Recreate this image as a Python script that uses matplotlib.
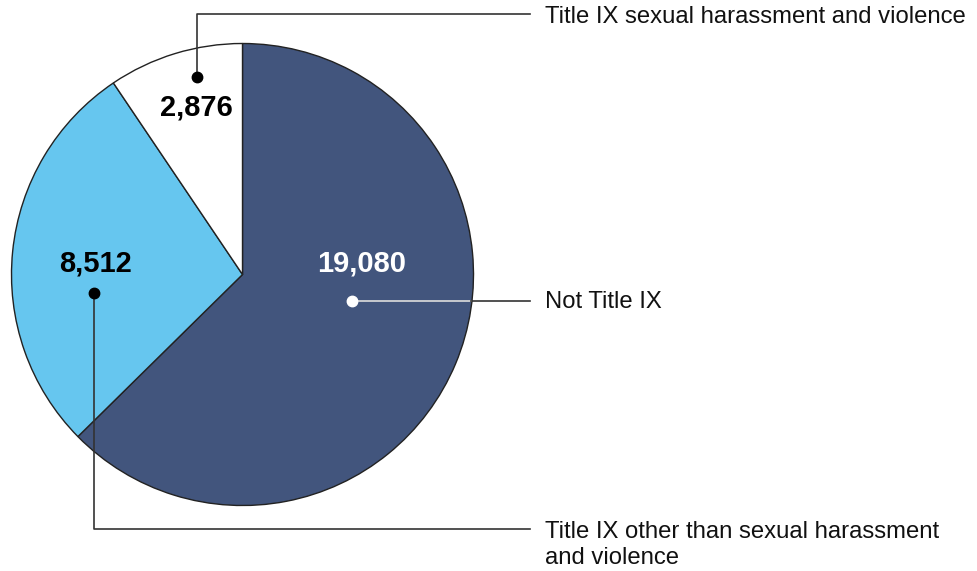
import matplotlib
matplotlib.use("Agg")
import matplotlib.pyplot as plt

plt.rcParams['font.family'] = ['Liberation Sans', 'DejaVu Sans']

categories = ["Not Title IX",
              "Title IX other than sexual harassment\nand violence",
              "Title IX sexual harassment and violence"]
values = [19080, 8512, 2876]
value_labels = ["19,080", "8,512", "2,876"]
colors = ["#42557d", "#66c6ef", "#ffffff"]

W, H = 977, 571
def Y(y):
    return H - y

fig = plt.figure(figsize=(W / 100, H / 100), dpi=100)
ax = fig.add_axes([0, 0, 1, 1])

cx, cy, R = 242.5, Y(274.5), 231
ax.pie(values, colors=colors, startangle=90, counterclock=False,
       center=(cx, cy), radius=R,
       wedgeprops=dict(edgecolor="#222222", linewidth=1.0))

ax.set_xlim(0, W)
ax.set_ylim(0, H)
ax.set_aspect("equal")
ax.axis("off")

line_c = "#333333"
lx_end = 530
tx = 545
fs_lab = 17.2
fs_val = 21

# Not Title IX
ax.text(362, Y(263), value_labels[0], color="white", fontsize=fs_val,
        fontweight="bold", ha="center", va="center")
ax.plot([352, cx + R - 3], [Y(301), Y(301)], color="#dddddd", lw=1.2)
ax.plot([cx + R - 3, lx_end], [Y(301), Y(301)], color=line_c, lw=1.2)
ax.plot([352], [Y(301)], "o", color="white", ms=7.5)
ax.text(tx, Y(302), categories[0], fontsize=fs_lab, ha="left", va="center",
        color="#111111")

# Title IX other
ax.text(95, Y(263), value_labels[1], color="black", fontsize=fs_val,
        fontweight="bold", ha="center", va="center")
ax.plot([94, 94, lx_end], [Y(293), Y(529), Y(529)], color=line_c, lw=1.2)
ax.plot([94], [Y(293)], "o", color="black", ms=7.5)
ax.text(tx, Y(545), categories[1], fontsize=fs_lab, ha="left", va="center",
        color="#111111", linespacing=1.18)

# Title IX sexual harassment
ax.text(196, Y(107), value_labels[2], color="black", fontsize=fs_val,
        fontweight="bold", ha="center", va="center")
ax.plot([197, 197, lx_end], [Y(77), Y(14), Y(14)], color=line_c, lw=1.2)
ax.plot([197], [Y(77)], "o", color="black", ms=7.5)
ax.text(tx, Y(17), categories[2], fontsize=fs_lab, ha="left", va="center",
        color="#111111")

fig.savefig("out.png", dpi=100)
